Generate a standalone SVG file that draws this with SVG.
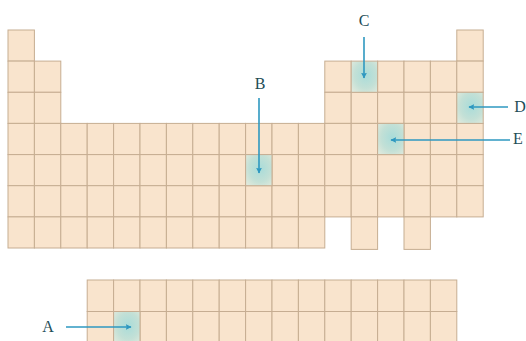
<svg xmlns="http://www.w3.org/2000/svg" width="526" height="341" viewBox="0 0 526 341">
<style>
.c{fill:#f9e4cd;stroke:#c6ad92;stroke-width:1}
.h{fill:url(#hg);stroke:#c6ad92;stroke-width:1}
.lab{font-family:"Liberation Serif","DejaVu Serif",serif;font-size:16px;fill:#1e4d57;text-anchor:middle}
.ar{stroke:#2e98c0;stroke-width:1.6;fill:none;marker-end:url(#ah)}
</style>
<defs>
<radialGradient id="hg" cx="0.55" cy="0.45" r="0.7">
<stop offset="0" stop-color="#a9dcd9"/>
<stop offset="0.6" stop-color="#c3e0d6"/>
<stop offset="1" stop-color="#dfe9dc"/>
</radialGradient>
<marker id="ah" viewBox="0 0 10 10" refX="9" refY="5" markerWidth="6" markerHeight="6" orient="auto" markerUnits="userSpaceOnUse">
<path d="M0,0 L10,5 L0,10 L2,5 Z" fill="#2e98c0"/>
</marker>
</defs>
<rect width="526" height="341" fill="#ffffff"/>
<g id="table">
<rect class="c" x="8" y="30" width="26.4" height="31.1"/>
<rect class="c" x="456.8" y="30" width="26.4" height="31.1"/>
<rect class="c" x="8" y="61.1" width="26.4" height="31.2"/>
<rect class="c" x="34.4" y="61.1" width="26.4" height="31.2"/>
<rect class="c" x="324.8" y="61.1" width="26.4" height="31.2"/>
<rect class="c" x="377.6" y="61.1" width="26.4" height="31.2"/>
<rect class="c" x="404" y="61.1" width="26.4" height="31.2"/>
<rect class="c" x="430.4" y="61.1" width="26.4" height="31.2"/>
<rect class="c" x="456.8" y="61.1" width="26.4" height="31.2"/>
<rect class="c" x="8" y="92.3" width="26.4" height="31.1"/>
<rect class="c" x="34.4" y="92.3" width="26.4" height="31.1"/>
<rect class="c" x="324.8" y="92.3" width="26.4" height="31.1"/>
<rect class="c" x="351.2" y="92.3" width="26.4" height="31.1"/>
<rect class="c" x="377.6" y="92.3" width="26.4" height="31.1"/>
<rect class="c" x="404" y="92.3" width="26.4" height="31.1"/>
<rect class="c" x="430.4" y="92.3" width="26.4" height="31.1"/>
<rect class="c" x="8" y="123.4" width="26.4" height="31.2"/>
<rect class="c" x="34.4" y="123.4" width="26.4" height="31.2"/>
<rect class="c" x="60.8" y="123.4" width="26.4" height="31.2"/>
<rect class="c" x="87.2" y="123.4" width="26.4" height="31.2"/>
<rect class="c" x="113.6" y="123.4" width="26.4" height="31.2"/>
<rect class="c" x="140" y="123.4" width="26.4" height="31.2"/>
<rect class="c" x="166.4" y="123.4" width="26.4" height="31.2"/>
<rect class="c" x="192.8" y="123.4" width="26.4" height="31.2"/>
<rect class="c" x="219.2" y="123.4" width="26.4" height="31.2"/>
<rect class="c" x="245.6" y="123.4" width="26.4" height="31.2"/>
<rect class="c" x="272" y="123.4" width="26.4" height="31.2"/>
<rect class="c" x="298.4" y="123.4" width="26.4" height="31.2"/>
<rect class="c" x="324.8" y="123.4" width="26.4" height="31.2"/>
<rect class="c" x="351.2" y="123.4" width="26.4" height="31.2"/>
<rect class="c" x="404" y="123.4" width="26.4" height="31.2"/>
<rect class="c" x="430.4" y="123.4" width="26.4" height="31.2"/>
<rect class="c" x="456.8" y="123.4" width="26.4" height="31.2"/>
<rect class="c" x="8" y="154.6" width="26.4" height="31.1"/>
<rect class="c" x="34.4" y="154.6" width="26.4" height="31.1"/>
<rect class="c" x="60.8" y="154.6" width="26.4" height="31.1"/>
<rect class="c" x="87.2" y="154.6" width="26.4" height="31.1"/>
<rect class="c" x="113.6" y="154.6" width="26.4" height="31.1"/>
<rect class="c" x="140" y="154.6" width="26.4" height="31.1"/>
<rect class="c" x="166.4" y="154.6" width="26.4" height="31.1"/>
<rect class="c" x="192.8" y="154.6" width="26.4" height="31.1"/>
<rect class="c" x="219.2" y="154.6" width="26.4" height="31.1"/>
<rect class="c" x="272" y="154.6" width="26.4" height="31.1"/>
<rect class="c" x="298.4" y="154.6" width="26.4" height="31.1"/>
<rect class="c" x="324.8" y="154.6" width="26.4" height="31.1"/>
<rect class="c" x="351.2" y="154.6" width="26.4" height="31.1"/>
<rect class="c" x="377.6" y="154.6" width="26.4" height="31.1"/>
<rect class="c" x="404" y="154.6" width="26.4" height="31.1"/>
<rect class="c" x="430.4" y="154.6" width="26.4" height="31.1"/>
<rect class="c" x="456.8" y="154.6" width="26.4" height="31.1"/>
<rect class="c" x="8" y="185.7" width="26.4" height="31.2"/>
<rect class="c" x="34.4" y="185.7" width="26.4" height="31.2"/>
<rect class="c" x="60.8" y="185.7" width="26.4" height="31.2"/>
<rect class="c" x="87.2" y="185.7" width="26.4" height="31.2"/>
<rect class="c" x="113.6" y="185.7" width="26.4" height="31.2"/>
<rect class="c" x="140" y="185.7" width="26.4" height="31.2"/>
<rect class="c" x="166.4" y="185.7" width="26.4" height="31.2"/>
<rect class="c" x="192.8" y="185.7" width="26.4" height="31.2"/>
<rect class="c" x="219.2" y="185.7" width="26.4" height="31.2"/>
<rect class="c" x="245.6" y="185.7" width="26.4" height="31.2"/>
<rect class="c" x="272" y="185.7" width="26.4" height="31.2"/>
<rect class="c" x="298.4" y="185.7" width="26.4" height="31.2"/>
<rect class="c" x="324.8" y="185.7" width="26.4" height="31.2"/>
<rect class="c" x="351.2" y="185.7" width="26.4" height="31.2"/>
<rect class="c" x="377.6" y="185.7" width="26.4" height="31.2"/>
<rect class="c" x="404" y="185.7" width="26.4" height="31.2"/>
<rect class="c" x="430.4" y="185.7" width="26.4" height="31.2"/>
<rect class="c" x="456.8" y="185.7" width="26.4" height="31.2"/>
<rect class="c" x="8" y="216.9" width="26.4" height="31.1"/>
<rect class="c" x="34.4" y="216.9" width="26.4" height="31.1"/>
<rect class="c" x="60.8" y="216.9" width="26.4" height="31.1"/>
<rect class="c" x="87.2" y="216.9" width="26.4" height="31.1"/>
<rect class="c" x="113.6" y="216.9" width="26.4" height="31.1"/>
<rect class="c" x="140" y="216.9" width="26.4" height="31.1"/>
<rect class="c" x="166.4" y="216.9" width="26.4" height="31.1"/>
<rect class="c" x="192.8" y="216.9" width="26.4" height="31.1"/>
<rect class="c" x="219.2" y="216.9" width="26.4" height="31.1"/>
<rect class="c" x="245.6" y="216.9" width="26.4" height="31.1"/>
<rect class="c" x="272" y="216.9" width="26.4" height="31.1"/>
<rect class="c" x="298.4" y="216.9" width="26.4" height="31.1"/>
<rect class="c" x="351.2" y="216.9" width="26.4" height="32.5"/>
<rect class="c" x="404" y="216.9" width="26.4" height="32.5"/>
<rect class="c" x="87.2" y="280" width="26.4" height="31.5"/>
<rect class="c" x="113.6" y="280" width="26.4" height="31.5"/>
<rect class="c" x="140" y="280" width="26.4" height="31.5"/>
<rect class="c" x="166.4" y="280" width="26.4" height="31.5"/>
<rect class="c" x="192.8" y="280" width="26.4" height="31.5"/>
<rect class="c" x="219.2" y="280" width="26.4" height="31.5"/>
<rect class="c" x="245.6" y="280" width="26.4" height="31.5"/>
<rect class="c" x="272" y="280" width="26.4" height="31.5"/>
<rect class="c" x="298.4" y="280" width="26.4" height="31.5"/>
<rect class="c" x="324.8" y="280" width="26.4" height="31.5"/>
<rect class="c" x="351.2" y="280" width="26.4" height="31.5"/>
<rect class="c" x="377.6" y="280" width="26.4" height="31.5"/>
<rect class="c" x="404" y="280" width="26.4" height="31.5"/>
<rect class="c" x="430.4" y="280" width="26.4" height="31.5"/>
<rect class="c" x="87.2" y="311.5" width="26.4" height="32"/>
<rect class="c" x="140" y="311.5" width="26.4" height="32"/>
<rect class="c" x="166.4" y="311.5" width="26.4" height="32"/>
<rect class="c" x="192.8" y="311.5" width="26.4" height="32"/>
<rect class="c" x="219.2" y="311.5" width="26.4" height="32"/>
<rect class="c" x="245.6" y="311.5" width="26.4" height="32"/>
<rect class="c" x="272" y="311.5" width="26.4" height="32"/>
<rect class="c" x="298.4" y="311.5" width="26.4" height="32"/>
<rect class="c" x="324.8" y="311.5" width="26.4" height="32"/>
<rect class="c" x="351.2" y="311.5" width="26.4" height="32"/>
<rect class="c" x="377.6" y="311.5" width="26.4" height="32"/>
<rect class="c" x="404" y="311.5" width="26.4" height="32"/>
<rect class="c" x="430.4" y="311.5" width="26.4" height="32"/>
</g>
<g id="cellC"><rect class="h" x="351.2" y="61.1" width="26.4" height="31.2"/></g>
<g id="cellD"><rect class="h" x="456.8" y="92.3" width="26.4" height="31.1"/></g>
<g id="cellE"><rect class="h" x="377.6" y="123.4" width="26.4" height="31.2"/></g>
<g id="cellB"><rect class="h" x="245.6" y="154.6" width="26.4" height="31.1"/></g>
<g id="cellA"><rect class="h" x="113.6" y="311.5" width="26.4" height="32"/></g>
<g id="connectors">
<line class="ar" x1="364" y1="37" x2="364" y2="78"/>
<line class="ar" x1="259" y1="98" x2="259" y2="173"/>
<line class="ar" x1="508" y1="107" x2="469" y2="107"/>
<line class="ar" x1="510" y1="140" x2="391" y2="140"/>
<line class="ar" x1="66" y1="327" x2="131" y2="327"/>
</g>
<g id="labels">
<text class="lab" x="364" y="26">C</text>
<text class="lab" x="260" y="89">B</text>
<text class="lab" x="520" y="112">D</text>
<text class="lab" x="518" y="144">E</text>
<text class="lab" x="48" y="332">A</text>
</g>
</svg>
